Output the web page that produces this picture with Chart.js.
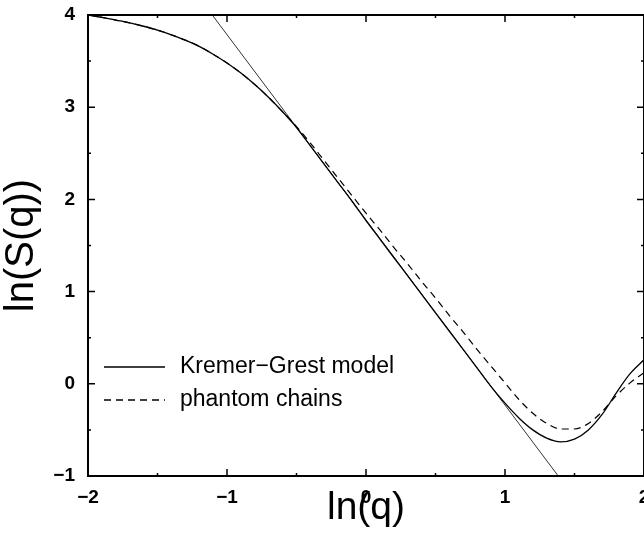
<!DOCTYPE html>
<html>
<head>
<meta charset="utf-8">
<script src="https://cdn.jsdelivr.net/npm/chart.js@4"></script>
<style>
  html, body { margin: 0; padding: 0; background: #fff; }
  #wrap { width: 644px; height: 535px; }
</style>
</head>
<body>
<div id="wrap"><canvas id="grafico" width="644" height="535"></canvas></div>
<script>
// valores
const lnQ = [-2.0, -1.9, -1.8, -1.7, -1.6, -1.5, -1.4, -1.3, -1.2, -1.1, -1.0, -0.9, -0.8, -0.7, -0.6,
  -0.5, -0.4, -0.3, -0.2, -0.1, 0.0, 0.1, 0.2, 0.3, 0.4, 0.5, 0.6, 0.7, 0.8, 0.9, 1.0,
  1.1, 1.2, 1.3, 1.4, 1.5, 1.6, 1.7, 1.8, 1.9, 2.0];
const kremerGrest = [4.00, 3.975, 3.945, 3.915, 3.878, 3.836, 3.785, 3.728, 3.66, 3.575, 3.48, 3.37, 3.245, 3.105, 2.95,
  2.78, 2.58, 2.38, 2.18, 1.98, 1.77, 1.57, 1.37, 1.17, 0.97, 0.77, 0.57, 0.37, 0.17, -0.03, -0.21,
  -0.37, -0.50, -0.59, -0.63, -0.60, -0.50, -0.33, -0.10, 0.11, 0.26];
const phantom = [4.00, 3.975, 3.945, 3.915, 3.878, 3.836, 3.785, 3.728, 3.66, 3.575, 3.48, 3.37, 3.245, 3.105, 2.95,
  2.79, 2.61, 2.42, 2.23, 2.04, 1.85, 1.67, 1.48, 1.30, 1.11, 0.93, 0.74, 0.56, 0.37, 0.19, 0.01,
  -0.17, -0.32, -0.43, -0.49, -0.49, -0.43, -0.30, -0.13, 0.01, 0.12];
// recta de pendiente -2
const rectaX = [-1.106, 1.383];
const rectaY = [4, -1];

const etiquetas = ["Kremer\u2212Grest model", "phantom chains"];
const ticksY = [-1, 0, 1, 2, 3, 4];
const ticksX = [-2, -1, 0, 1, 2];

function puntos(xs, ys) {
  return xs.map((x, i) => ({ x: x, y: ys[i] }));
}

function menos(v) {
  return String(v).replace("-", "\u2212");
}

// Plugin para el marco, las marcas hacia dentro y la leyenda
const marcoPlugin = {
  id: 'marco',
  afterDatasetsDraw(chart) {
    const ctx = chart.ctx;
    const a = chart.chartArea;
    const sx = chart.scales.x;
    const sy = chart.scales.y;
    ctx.save();
    ctx.strokeStyle = '#000';
    ctx.lineWidth = 2;
    ctx.strokeRect(a.left, a.top, a.right - a.left, a.bottom - a.top);

    ctx.lineWidth = 1.5;
    for (let v = -2; v <= 2.001; v += 0.5) {
      const px = sx.getPixelForValue(v);
      const len = Math.abs(v % 1) < 0.01 ? 7 : 3;
      ctx.beginPath();
      ctx.moveTo(px, a.bottom); ctx.lineTo(px, a.bottom - len);
      ctx.moveTo(px, a.top); ctx.lineTo(px, a.top + len);
      ctx.stroke();
    }
    for (let v = -1; v <= 4.001; v += 0.5) {
      const py = sy.getPixelForValue(v);
      const len = Math.abs(v % 1) < 0.01 ? 7 : 3;
      ctx.beginPath();
      ctx.moveTo(a.left, py); ctx.lineTo(a.left + len, py);
      ctx.moveTo(a.right, py); ctx.lineTo(a.right - len, py);
      ctx.stroke();
    }

    // leyenda
    const filas = [0, 1];
    ctx.font = '23px "Liberation Sans", Arial, sans-serif';
    ctx.fillStyle = '#000';
    ctx.textBaseline = 'middle';
    filas.forEach((i, k) => {
      const ds = chart.data.datasets[i];
      const y = 367 + k * 33;
      ctx.beginPath();
      ctx.lineWidth = 1.3;
      ctx.setLineDash(ds.borderDash || []);
      ctx.moveTo(104, y); ctx.lineTo(165, y);
      ctx.stroke();
      ctx.setLineDash([]);
      ctx.fillText(ds.label, 180, y);
    });
    ctx.restore();
  }
};

const ctx = document.getElementById("grafico").getContext("2d");
const grafico = new Chart(ctx, {
  type: 'scatter',
  data: {
    datasets: [
      {
        label: etiquetas[0],
        data: puntos(lnQ, kremerGrest),
        showLine: true,
        borderColor: '#000',
        borderWidth: 1.3,
        pointRadius: 0,
        cubicInterpolationMode: 'monotone'
      },
      {
        label: etiquetas[1],
        data: puntos(lnQ, phantom),
        showLine: true,
        borderColor: '#000',
        borderWidth: 1.2,
        borderDash: [7, 5],
        pointRadius: 0,
        cubicInterpolationMode: 'monotone'
      },
      {
        label: 'slope -2',
        data: puntos(rectaX, rectaY),
        showLine: true,
        borderColor: '#333',
        borderWidth: 1,
        pointRadius: 0
      }
    ]
  },
  options: {
    responsive: false,
    animation: false,
    layout: { padding: { top: 15, right: 0, left: 0, bottom: 0 } },
    plugins: {
      legend: { display: false },
      tooltip: { enabled: false }
    },
    scales: {
      x: {
        type: 'linear',
        min: -2,
        max: 2,
        border: { display: false },
        grid: { display: false, drawTicks: false },
        afterBuildTicks(scale) { scale.ticks = ticksX.map(v => ({ value: v })); },
        afterFit(scale) { scale.height = 59; scale.paddingLeft = 0; scale.paddingRight = 0; },
        ticks: {
          padding: 10,
          color: '#000',
          maxRotation: 0,
          font: { family: '"Liberation Sans", Arial, sans-serif', size: 19, weight: 'bold' },
          callback: v => menos(v)
        },
        title: {
          display: true,
          text: 'ln(q)',
          color: '#000',
          font: { family: '"Liberation Sans", Arial, sans-serif', size: 39, lineHeight: 1 },
          padding: { top: 0, bottom: 7 }
        }
      },
      y: {
        type: 'linear',
        min: -1,
        max: 4,
        border: { display: false },
        grid: { display: false, drawTicks: false },
        afterBuildTicks(scale) { scale.ticks = ticksY.map(v => ({ value: v })); },
        afterFit(scale) { scale.width = 88; scale.paddingTop = 0; scale.paddingBottom = 0; },
        ticks: {
          padding: 13,
          color: '#000',
          font: { family: '"Liberation Sans", Arial, sans-serif', size: 19, weight: 'bold' },
          callback: v => menos(v)
        },
        title: {
          display: true,
          text: 'ln(S(q))',
          color: '#000',
          font: { family: '"Liberation Sans", Arial, sans-serif', size: 40, lineHeight: 1 },
          padding: { top: 2, bottom: 0 }
        }
      }
    }
  },
  plugins: [marcoPlugin]
});
</script>
</body>
</html>
